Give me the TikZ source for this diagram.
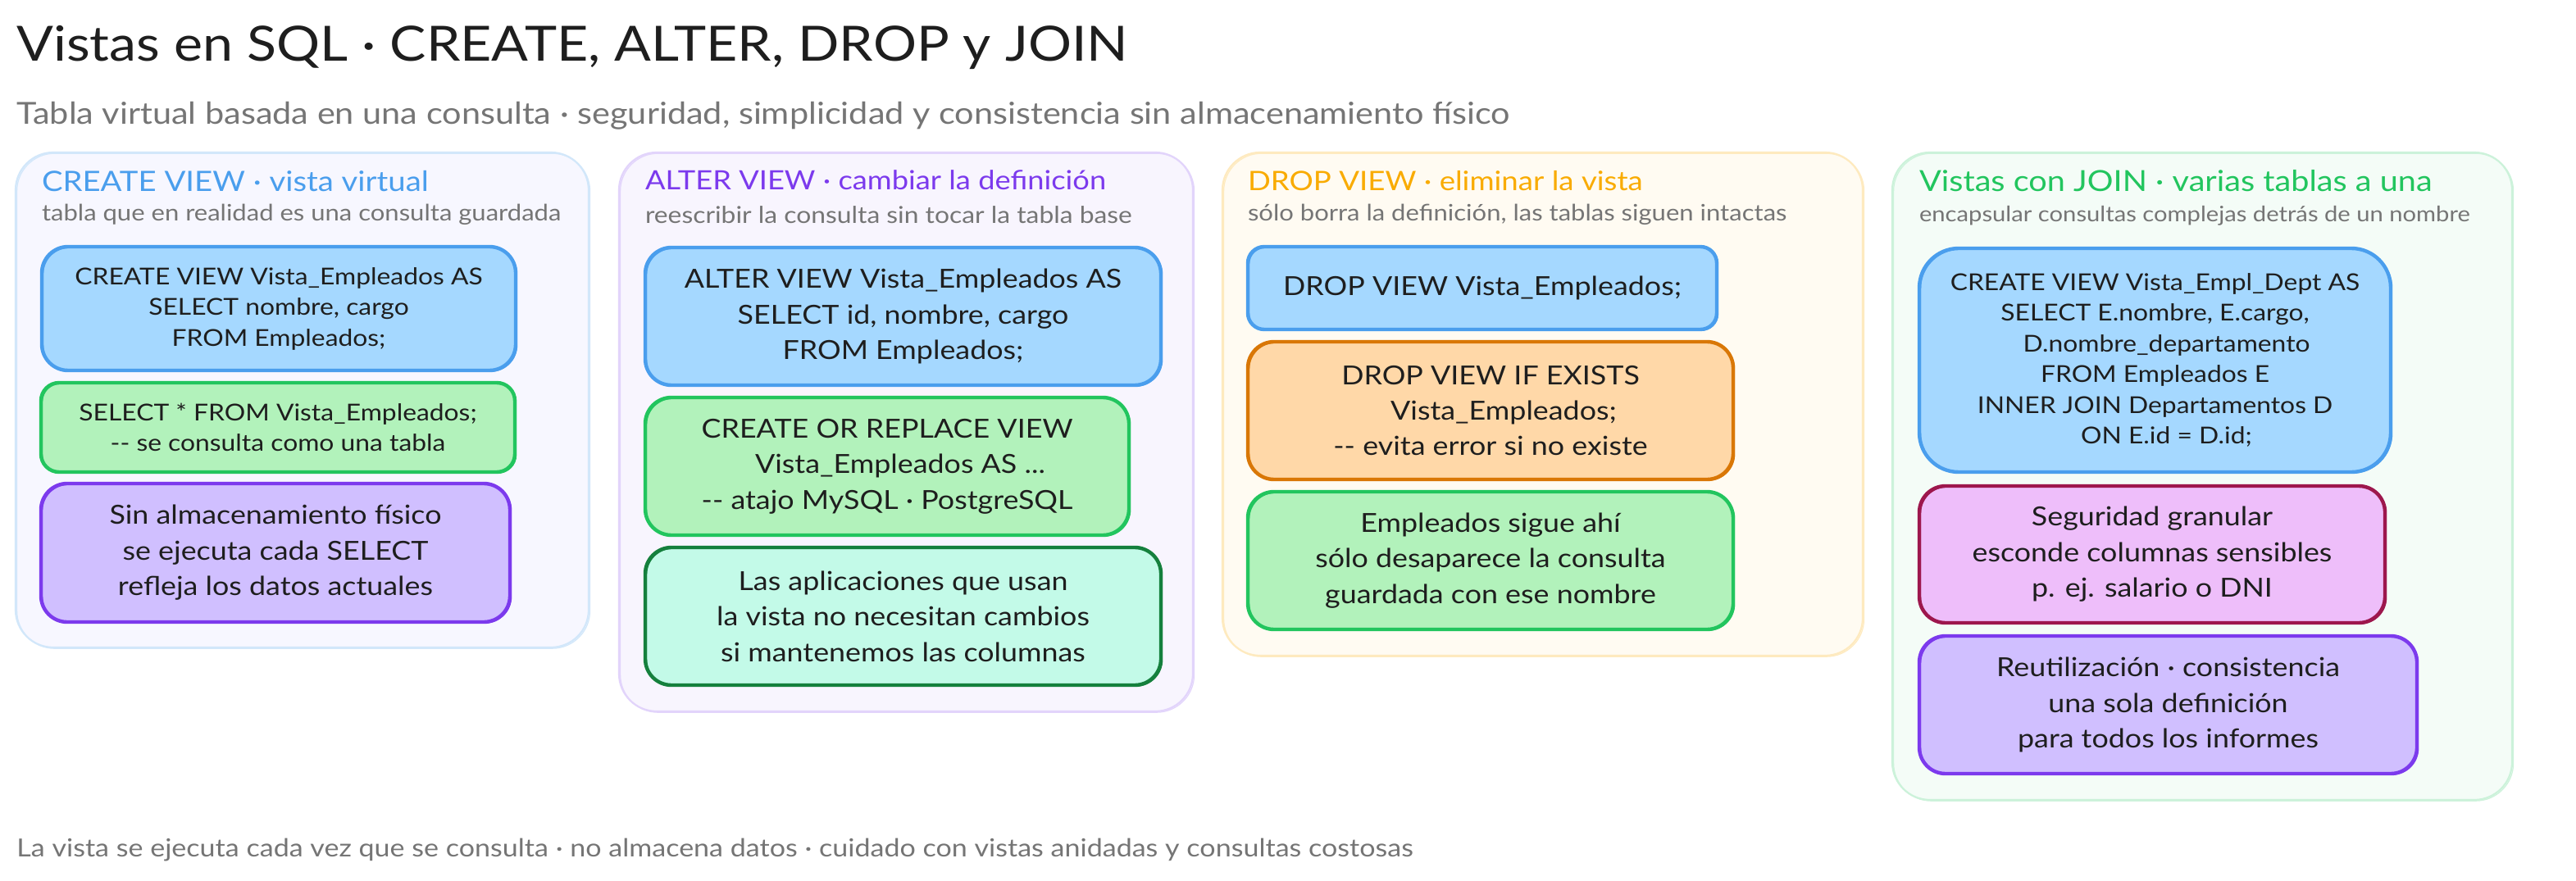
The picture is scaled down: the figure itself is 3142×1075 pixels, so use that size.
\documentclass[tikz,border=0pt]{standalone}
\usepackage{fontspec}
\setmainfont[FakeStretch=1.12]{Lato}
\definecolor{ink}{HTML}{1E1E1E}
\definecolor{gray1}{HTML}{757575}
\definecolor{sBlue}{HTML}{4A9EED}\definecolor{fBlue}{HTML}{A5D8FF}
\definecolor{sGreen}{HTML}{22C55E}\definecolor{fGreen}{HTML}{B2F2BB}
\definecolor{sPurple}{HTML}{7C3AED}\definecolor{fPurple}{HTML}{D0BFFF}
\definecolor{sTeal}{HTML}{15803D}\definecolor{fTeal}{HTML}{C3FAE8}
\definecolor{sOrange}{HTML}{D97706}\definecolor{fOrange}{HTML}{FFD8A8}
\definecolor{sPink}{HTML}{9D174D}\definecolor{fPink}{HTML}{EEBEFA}
\definecolor{tAmber}{HTML}{F9AB00}
\tikzset{
  anybox/.style={rounded corners=16pt,outer sep=0pt,inner sep=0pt,align=center,text=ink},
  wob/.style={postaction={draw=#1,line width=.6pt,transform canvas={xshift=.8pt,yshift=-.6pt}}},
  panel/.style 2 args={anybox,draw=#1,fill=#2,line width=1.1pt,rounded corners=23pt,wob=#1},
  card/.style 2 args={anybox,draw=#1,fill=#2,line width=2.2pt,wob=#1},
  bBlue/.style={card={sBlue}{fBlue}},
  bGreen/.style={card={sGreen}{fGreen}},
  bPurple/.style={card={sPurple}{fPurple}},
  bTeal/.style={card={sTeal}{fTeal}},
  bOrange/.style={card={sOrange}{fOrange}},
  bPink/.style={card={sPink}{fPink}},
  fs/.style={font=\fontsize{14.2}{18.75}\selectfont},
  fb/.style={font=\fontsize{16}{21.7}\selectfont},
  head/.style={anchor=west,inner sep=0pt,outer sep=0pt,font=\fontsize{#1}{20}\selectfont},
  sub/.style={anchor=west,inner sep=0pt,outer sep=0pt,text=gray1,font=\fontsize{#1}{17}\selectfont},
}
\newcommand\rbox[7]{%
  \pgfmathsetmacro\rw{(#4-#2)*.5}\pgfmathsetmacro\rh{(#5-#3)*.5}%
  \node[#6,minimum width=\rw pt,minimum height=\rh pt] (#1) at ({(#2+#4)/2},{(#3+#5)/2}) {#7};}
\begin{document}
\begin{tikzpicture}[x=.5pt,y=-.5pt]
\fill[white] (0,0) rectangle (3142,1075);
\useasboundingbox (0,0) rectangle (3142,1075);
\node[anchor=west,inner sep=0pt,text=ink,font=\fontsize{29.6}{34}\selectfont] (title) at (20,58) {Vistas en SQL · CREATE, ALTER, DROP y JOIN};
\node[anchor=west,inner sep=0pt,text=gray1,font=\fontsize{18.5}{22}\selectfont] (subtitle) at (20,141) {Tabla virtual basada en una consulta · seguridad, simplicidad y consistencia sin almacenamiento físico};
% panels
\rbox{p1}{19}{186}{718}{790}{panel={sBlue!25!white}{blue!3!white}}{}
\rbox{p2}{755}{186}{1455}{868}{panel={sPurple!22!white}{sPurple!5!white}}{}
\rbox{p3}{1491}{186}{2272}{800}{panel={tAmber!25!white}{tAmber!5!white}}{}
\rbox{p4}{2308}{186}{3064}{976}{panel={sGreen!23!white}{sGreen!5!white}}{}
% heads
\node[head=17.1,text=sBlue] (h1) at (51,221) {CREATE VIEW · vista virtual};
\node[sub=13.85] (s1) at (51,262) {tabla que en realidad es una consulta guardada};
\node[head=16.2,text=sPurple] (h2) at (787,220) {ALTER VIEW · cambiar la definición};
\node[sub=14.2] (s2) at (787,262) {reescribir la consulta sin tocar la tabla base};
\node[head=16.35,text=tAmber] (h3) at (1522,221) {DROP VIEW · eliminar la vista};
\node[sub=13.85] (s3) at (1522,262) {sólo borra la definición, las tablas siguen intactas};
\node[head=17.7,text=sGreen] (h4) at (2341,221) {Vistas con JOIN · varias tablas a una};
\node[sub=13.03] (s4) at (2341,263) {encapsular consultas complejas detrás de un nombre};
% panel 1
\rbox{a1}{51}{301}{629}{452}{bBlue,fs}{CREATE VIEW Vista\_Empleados AS\\SELECT nombre, cargo\\FROM Empleados;}
\rbox{a2}{50}{467}{628}{576}{bGreen,fs,rounded corners=11pt}{SELECT * FROM Vista\_Empleados;\\-{}- se consulta como una tabla}
\rbox{a3}{50}{590}{622}{759}{bPurple,fb}{Sin almacenamiento físico\\se ejecuta cada SELECT\\refleja los datos actuales}
% panel 2
\rbox{b1}{787}{302}{1416}{470}{bBlue,fb}{ALTER VIEW Vista\_Empleados AS\\SELECT id, nombre, cargo\\FROM Empleados;}
\rbox{b2}{787}{485}{1377}{653}{bGreen,fb}{CREATE OR REPLACE VIEW\\\hspace*{16pt}Vista\_Empleados AS ...\\-{}- atajo MySQL · PostgreSQL}
\rbox{b3}{787}{668}{1416}{836}{bTeal,fb}{Las aplicaciones que usan\\la vista no necesitan cambios\\si mantenemos las columnas}
% panel 3
\rbox{c1}{1522}{301}{2094}{402}{bBlue,fb,rounded corners=10pt}{DROP VIEW Vista\_Empleados;}
\rbox{c2}{1522}{417}{2114}{585}{bOrange,fb}{DROP VIEW IF EXISTS\\\hspace*{16pt}Vista\_Empleados;\\-{}- evita error si no existe}
\rbox{c3}{1522}{600}{2114}{768}{bGreen,fb}{Empleados sigue ahí\\sólo desaparece la consulta\\guardada con ese nombre}
% panel 4
\rbox{d1}{2341}{303}{2916}{576}{bBlue,fs,rounded corners=24pt}{CREATE VIEW Vista\_Empl\_Dept AS\\SELECT E.nombre, E.cargo,\\\hspace*{14pt}D.nombre\_departamento\\FROM Empleados E\\INNER JOIN Departamentos D\\\hspace*{14pt}ON E.id = D.id;}
\rbox{d2}{2341}{593}{2909}{760}{bPink,fb}{Seguridad granular\\esconde columnas sensibles\\p. ej. salario o DNI}
\rbox{d3}{2341}{776}{2948}{944}{bPurple,fb}{Reutilización · consistencia\\una sola definición\\para todos los informes}
\node[anchor=west,inner sep=0pt,text=gray1,font=\fontsize{15.2}{19}\selectfont] (foot) at (20,1037) {La vista se ejecuta cada vez que se consulta · no almacena datos · cuidado con vistas anidadas y consultas costosas};
\end{tikzpicture}
\end{document}
